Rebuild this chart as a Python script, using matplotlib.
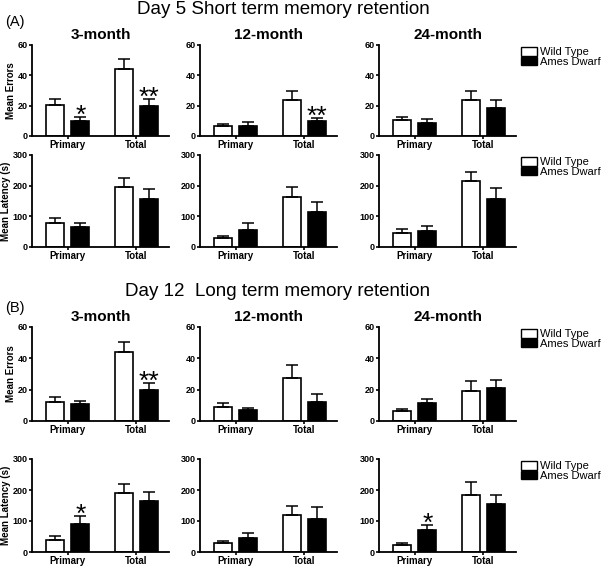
import matplotlib
matplotlib.use("Agg")
import matplotlib.pyplot as plt
import numpy as np
from matplotlib.patches import Patch

plt.rcParams['font.family'] = ['Liberation Sans', 'DejaVu Sans']

ages = ["3-month", "12-month", "24-month"]
trials = ["Primary", "Total"]
groups = ["Wild Type", "Ames Dwarf"]

# values per age: [Primary, Total]
day5_errors_wt = [[20.4, 44.2], [6.8, 23.8], [10.4, 24.0]]
day5_errors_wt_sem = [[4.2, 6.8], [1.4, 5.6], [2.2, 5.8]]
day5_errors_ad = [[10.1, 19.8], [6.8, 9.7], [8.6, 18.5]]
day5_errors_ad_sem = [[2.4, 4.6], [2.2, 2.2], [2.9, 5.3]]
day5_errors_stars = [["*", "**"], ["", "**"], ["", ""]]

day5_latency_wt = [[77.7, 197.0], [28.8, 162.8], [46.3, 215.0]]
day5_latency_wt_sem = [[17.3, 28.6], [7.7, 32.2], [11.0, 29.6]]
day5_latency_ad = [[65.7, 155.5], [55.4, 113.0], [50.7, 155.5]]
day5_latency_ad_sem = [[13.3, 32.5], [24.3, 35.0], [17.7, 37.5]]
day5_latency_stars = [["", ""], ["", ""], ["", ""]]

day12_errors_wt = [[12.0, 43.9], [8.7, 27.4], [6.35, 19.3]]
day12_errors_wt_sem = [[3.2, 6.5], [3.0, 8.1], [1.35, 6.1]]
day12_errors_ad = [[10.7, 19.9], [6.8, 12.1], [11.4, 21.2]]
day12_errors_ad_sem = [[1.9, 4.3], [1.3, 5.1], [2.8, 5.1]]
day12_errors_stars = [["", "**"], ["", ""], ["", ""]]

day12_latency_wt = [[39.5, 190.0], [27.8, 118.5], [24.1, 185.0]]
day12_latency_wt_sem = [[11.5, 28.8], [8.5, 31.0], [4.4, 39.5]]
day12_latency_ad = [[91.8, 164.4], [44.8, 106.7], [70.0, 155.5]]
day12_latency_ad_sem = [[25.2, 27.6], [15.0, 37.3], [18.7, 29.5]]
day12_latency_stars = [["*", ""], ["", ""], ["*", ""]]

W, H = 601, 566
fig = plt.figure(figsize=(W / 100, H / 100), dpi=100)

col_x = [32, 200, 379]
col_w = 137
rows = [
    (45, 136, day5_errors_wt, day5_errors_wt_sem, day5_errors_ad, day5_errors_ad_sem, day5_errors_stars, 60, "Mean Errors"),
    (155, 247, day5_latency_wt, day5_latency_wt_sem, day5_latency_ad, day5_latency_ad_sem, day5_latency_stars, 300, "Mean Latency (s)"),
    (327, 421, day12_errors_wt, day12_errors_wt_sem, day12_errors_ad, day12_errors_ad_sem, day12_errors_stars, 60, "Mean Errors"),
    (459, 552, day12_latency_wt, day12_latency_wt_sem, day12_latency_ad, day12_latency_ad_sem, day12_latency_stars, 300, "Mean Latency (s)"),
]

centers = np.array([0.0, 2.7])
width = 0.7
for r, (top, bot, wt, wt_sem, ad, ad_sem, stars, ymax, ylab) in enumerate(rows):
    for c in range(3):
        ax = fig.add_axes([col_x[c] / W, 1 - bot / H, col_w / W, (bot - top) / H])
        xw = centers
        xa = centers + 1.0
        ax.bar(xw, wt[c], width, color="white", edgecolor="black", linewidth=1.2,
               yerr=[[0, 0], wt_sem[c]], capsize=4,
               error_kw=dict(elinewidth=1.1, capthick=1.1, ecolor="black"))
        ax.bar(xa, ad[c], width, color="black", edgecolor="black", linewidth=1.2,
               yerr=[[0, 0], ad_sem[c]], capsize=4,
               error_kw=dict(elinewidth=1.1, capthick=1.1, ecolor="black"))
        for i in range(2):
            if stars[c][i]:
                ax.annotate(stars[c][i], (xa[i], ad[c][i] + ad_sem[c][i]),
                            xytext=(0, -4.5), textcoords="offset points",
                            ha="center", va="baseline", fontsize=19)
        ax.set_xlim(-0.9, 4.48)
        ax.set_ylim(0, ymax)
        ax.set_yticks(np.linspace(0, ymax, 4))
        ax.set_xticks(centers + 0.5)
        ax.set_xticklabels(trials, fontweight="bold", fontsize=7)
        for lab in ax.get_yticklabels():
            lab.set_fontweight("bold")
            lab.set_fontsize(6.5)
        ax.tick_params(axis="y", length=2.5, width=1.2, pad=0.5)
        ax.tick_params(axis="x", length=2.5, width=1.2, pad=0.5)
        for s in ["top", "right"]:
            ax.spines[s].set_visible(False)
        for s in ["left", "bottom"]:
            ax.spines[s].set_linewidth(1.3)
        if c == 0:
            ax.set_ylabel(ylab, fontweight="bold", fontsize=7, labelpad=1)
        if r in (0, 2):
            ax.set_title(ages[c], fontweight="bold", fontsize=11, pad=4)
        if c == 2:
            handles = [Patch(facecolor="white", edgecolor="black", linewidth=1),
                       Patch(facecolor="black", edgecolor="black", linewidth=1)]
            ax.legend(handles, groups, loc="upper left",
                      bbox_to_anchor=(521 / W, 1 - (top + 2) / H),
                      bbox_transform=fig.transFigure, frameon=False,
                      fontsize=8, handlelength=1.4, handleheight=0.8,
                      handletextpad=0.3, labelspacing=-0.05, borderpad=0,
                      borderaxespad=0)

fig.text(283 / W, 1 - 10 / H, "Day 5 Short term memory retention",
         ha="center", va="center", fontsize=13.5)
fig.text(278 / W, 1 - 292 / H, "Day 12  Long term memory retention",
         ha="center", va="center", fontsize=13.5)
fig.text(5 / W, 1 - 22 / H, "(A)", ha="left", va="center", fontsize=10.5)
fig.text(5 / W, 1 - 308 / H, "(B)", ha="left", va="center", fontsize=10.5)

fig.savefig("out.png", dpi=100)
